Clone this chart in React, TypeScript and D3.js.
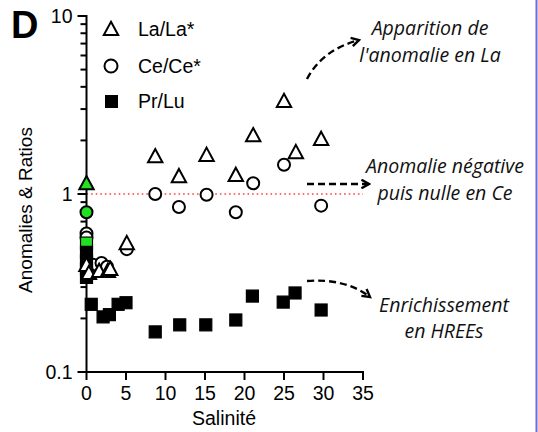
import React from "react";
import * as d3 from "d3";

const laX = [0, 0, 0.3, 1.6, 2.7, 3.0, 5.1, 8.7, 11.7, 15.2, 18.9, 21.1, 25.0, 26.5, 29.7];
const laY = [1.15, 0.40, 0.36, 0.37, 0.37, 0.38, 0.53, 1.63, 1.26, 1.66, 1.28, 2.14, 3.33, 1.72, 2.04];
const laGreen = [true, false, false, false, false, false, false, false, false, false, false, false, false, false, false];

const ceX = [0, 0, 0, 0.8, 1.9, 2.6, 5.1, 8.7, 11.7, 15.2, 18.9, 21.1, 25.0, 29.7];
const ceY = [0.79, 0.60, 0.57, 0.40, 0.41, 0.39, 0.49, 1.0, 0.845, 0.99, 0.79, 1.15, 1.46, 0.86];
const ceGreen = [true, false, false, false, false, false, false, false, false, false, false, false, false, false];

const prX = [0, 0, 0, 0, 0, 0.6, 2.1, 2.9, 4.0, 5.0, 8.7, 11.8, 15.1, 18.9, 21.0, 24.9, 26.4, 29.7];
const prY = [0.53, 0.47, 0.42, 0.38, 0.34, 0.24, 0.204, 0.21, 0.24, 0.245, 0.168, 0.184, 0.184, 0.196, 0.267, 0.247, 0.278, 0.223];
const prGreen = [true, false, false, false, false, false, false, false, false, false, false, false, false, false, false, false, false, false];

const xTicks = [0, 5, 10, 15, 20, 25, 30, 35];
const yMajor = [0.1, 1, 10];
const yLabels = ["0.1", "1", "10"];
const legendNames = ["La/La*", "Ce/Ce*", "Pr/Lu"];

const GREEN = "#22e022";

export default function App() {
  const x = d3.scaleLinear().domain([0, 35]).range([86.5, 363]);
  const y = d3.scaleLog().domain([0.1, 10]).range([372, 16]);
  const minor: number[] = [];
  [0.1, 1].forEach((d) => {
    for (let k = 2; k <= 9; k++) minor.push(d * k);
  });
  const af = "'Liberation Sans', Arial, sans-serif";
  const itf = "'Open Sans', sans-serif";
  const fs = 19.5;
  const triPath = (cx: number, cy: number) => {
    const s = 7.2;
    return `M${cx},${cy - s}L${cx + s},${cy + s * 0.85}L${cx - s},${cy + s * 0.85}Z`;
  };
  return (
    <svg width={538} height={432} style={{ position: "absolute", left: 0, top: 0 }}>
      <defs>
        <marker id="ah" viewBox="0 0 10 10" refX="8" refY="5" markerWidth="4.5" markerHeight="4.5" orient="auto">
          <path d="M1,1L8,5L1,9" fill="none" stroke="black" strokeWidth={2.2} />
        </marker>
      </defs>
      <rect x={0} y={0} width={538} height={432} fill="white" />
      <line x1={536.5} y1={0} x2={536.5} y2={432} stroke="#6a6aea" strokeWidth={2} />
      <text x={11} y={38} fontFamily={af} fontWeight="bold" fontSize={38}>D</text>
      {/* red dotted line */}
      <line x1={x(0)} x2={x(35)} y1={y(1)} y2={y(1)} stroke="#ff4040" strokeWidth={1.6} strokeDasharray="1.6,3" />
      {/* axes */}
      <line x1={x(0)} x2={x(0)} y1={y(10) - 1} y2={y(0.1) + 1} stroke="black" strokeWidth={2} />
      <line x1={x(0) - 1} x2={x(35) + 1} y1={y(0.1)} y2={y(0.1)} stroke="black" strokeWidth={2} />
      {yMajor.map((d, i) => (
        <g key={"ym" + i}>
          <line x1={x(0) - 9} x2={x(0)} y1={y(d)} y2={y(d)} stroke="black" strokeWidth={2} />
          <text x={x(0) - 14} y={y(d) + 7} textAnchor="end" fontFamily={af} fontSize={fs}>{yLabels[i]}</text>
        </g>
      ))}
      {minor.map((d, i) => (
        <line key={"mn" + i} x1={x(0) - 6} x2={x(0)} y1={y(d)} y2={y(d)} stroke="black" strokeWidth={2} />
      ))}
      {xTicks.map((d) => (
        <g key={"xt" + d}>
          <line x1={x(d)} x2={x(d)} y1={y(0.1)} y2={y(0.1) + 8} stroke="black" strokeWidth={2} />
          <text x={x(d)} y={y(0.1) + 28} textAnchor="middle" fontFamily={af} fontSize={fs}>{d}</text>
        </g>
      ))}
      <text x={224} y={425} textAnchor="middle" fontFamily={af} fontSize={fs}>Salinité</text>
      <text transform={`translate(32,210) rotate(-90)`} textAnchor="middle" fontFamily={af} fontSize={19}>Anomalies &amp; Ratios</text>
      {/* data */}
      {ceX.map((d, i) => (
        <circle key={"c" + i} cx={x(d)} cy={y(ceY[i])} r={6} fill={ceGreen[i] ? GREEN : "white"} stroke="black" strokeWidth={2} />
      ))}
      {prX.map((d, i) => (
        <rect key={"p" + i} x={x(d) - 6} y={y(prY[i]) - 6} width={12} height={12} fill={prGreen[i] ? GREEN : "black"} stroke="black" strokeWidth={1.2} />
      ))}
      {laX.map((d, i) => (
        <path key={"l" + i} d={triPath(x(d), y(laY[i]))} fill={laGreen[i] ? GREEN : "white"} stroke="black" strokeWidth={2} strokeLinejoin="miter" />
      ))}
      {/* legend */}
      <path d={triPath(111, 29)} fill="white" stroke="black" strokeWidth={2} />
      <text x={138} y={36} fontFamily={af} fontSize={fs}>{legendNames[0]}</text>
      <circle cx={111} cy={66} r={6.5} fill="white" stroke="black" strokeWidth={2} />
      <text x={138} y={73} fontFamily={af} fontSize={fs}>{legendNames[1]}</text>
      <rect x={105} y={95} width={13} height={13} fill="black" />
      <text x={138} y={108} fontFamily={af} fontSize={fs}>{legendNames[2]}</text>
      {/* annotations */}
      <g fontFamily={itf} fontStyle="italic" fontSize={19.5} textAnchor="middle" fill="#111">
        <text x={430} y={35}>Apparition de</text>
        <text x={430} y={62}>l'anomalie en La</text>
        <text x={445} y={173}>Anomalie négative</text>
        <text x={445} y={200}>puis nulle en Ce</text>
        <text x={444} y={312}>Enrichissement</text>
        <text x={444} y={338}>en HREEs</text>
      </g>
      <g fill="none" stroke="black" strokeWidth={2.4} strokeDasharray="7,4">
        <path d="M307,79 Q322,50 359,40" markerEnd="url(#ah)" />
        <path d="M307,184 L369,184" markerEnd="url(#ah)" />
        <path d="M307,281 Q345,278 370,297" markerEnd="url(#ah)" />
      </g>
    </svg>
  );
}
